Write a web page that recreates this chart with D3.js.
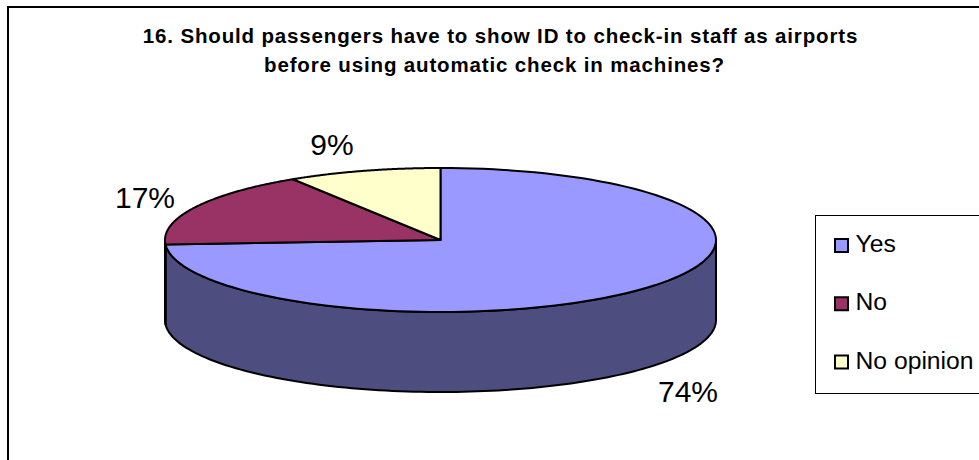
<!DOCTYPE html>
<html>
<head>
<meta charset="utf-8">
<script src="https://cdn.jsdelivr.net/npm/d3@7"></script>
<style>
html,body{margin:0;padding:0;background:#fff;overflow:hidden}
svg{display:block}
text{font-family:"Liberation Sans",Arial,sans-serif;fill:#000}
</style>
</head>
<body>
<div id="chart"></div>
<script>
const categories = ["Yes", "No", "No opinion"];
const values = [74, 17, 9];
const topColors = ["#9999ff", "#993366", "#ffffcc"];
const sideColors = ["#4d4d80", "#4d1a33", "#808066"];
const titleLines = [
  "16. Should passengers have to show ID to check-in staff as airports",
  "before using automatic check in machines?"
];

const W = 979, H = 460;
const cx = 440.5, cy = 240, rx = 275.5, ry = 72, depth = 80;

const svg = d3.select("#chart").append("svg").attr("width", W).attr("height", H);

svg.append("rect").attr("x", 8).attr("y", 7).attr("width", 1000).attr("height", 500)
  .attr("fill", "#fff").attr("stroke", "#000").attr("stroke-width", 2);

svg.selectAll("text.title").data(titleLines).join("text")
  .attr("class", "title")
  .attr("x", (d, i) => [500.5, 494.5][i]).attr("y", (d, i) => 43 + i * 28.5)
  .attr("text-anchor", "middle")
  .attr("font-weight", "bold").attr("font-size", 20.5)
  .attr("letter-spacing", 0.85)
  .text(d => d);

const arcs = d3.pie().sort(null).startAngle(0).endAngle(2 * Math.PI)(values);
const px = a => cx + rx * Math.sin(a);
const py = a => cy - ry * Math.cos(a);
const line = d3.line();
const samples = (a0, a1) => d3.range(0, 121).map(i => a0 + (a1 - a0) * i / 120);

// Visible side wall: front half of each slice
arcs.forEach((d, i) => {
  const a0 = Math.max(d.startAngle, Math.PI / 2);
  const a1 = Math.min(d.endAngle, 3 * Math.PI / 2);
  if (a1 <= a0) return;
  const as = samples(a0, a1);
  const outline = as.map(a => [px(a), py(a)])
    .concat(as.slice().reverse().map(a => [px(a), py(a) + depth]));
  svg.append("path").attr("d", line(outline) + "Z")
    .attr("fill", sideColors[i]).attr("stroke", "#000").attr("stroke-width", 2)
    .attr("stroke-linejoin", "round");
});

// Top face slices
arcs.forEach((d, i) => {
  const pts = [[cx, cy]].concat(samples(d.startAngle, d.endAngle).map(a => [px(a), py(a)]));
  svg.append("path").attr("d", line(pts) + "Z")
    .attr("fill", topColors[i]).attr("stroke", "#000").attr("stroke-width", 2)
    .attr("stroke-linejoin", "round");
});

// Data labels
const labelAnchor = [[688, 402], [145, 208], [332, 155]];
svg.selectAll("text.pct").data(arcs).join("text")
  .attr("class", "pct")
  .attr("x", (d, i) => labelAnchor[i][0]).attr("y", (d, i) => labelAnchor[i][1])
  .attr("text-anchor", "middle").attr("font-size", 30)
  .text(d => d.data + "%");

// Legend
svg.append("rect").attr("x", 815.5).attr("y", 215.5).attr("width", 200).attr("height", 178)
  .attr("fill", "#fff").attr("stroke", "#000").attr("stroke-width", 1);
const row = d3.scalePoint().domain(categories).range([245.5, 362]);
const lg = svg.selectAll("g.leg").data(categories).join("g").attr("class", "leg")
  .attr("transform", d => `translate(0,${row(d)})`);
lg.append("rect").attr("x", 835).attr("y", -6.5).attr("width", 13).attr("height", 13)
  .attr("fill", (d, i) => topColors[i]).attr("stroke", "#000").attr("stroke-width", 2);
lg.append("text").attr("x", 855.5).attr("y", 6.5).attr("font-size", 24.7).text(d => d);
</script>
</body>
</html>
